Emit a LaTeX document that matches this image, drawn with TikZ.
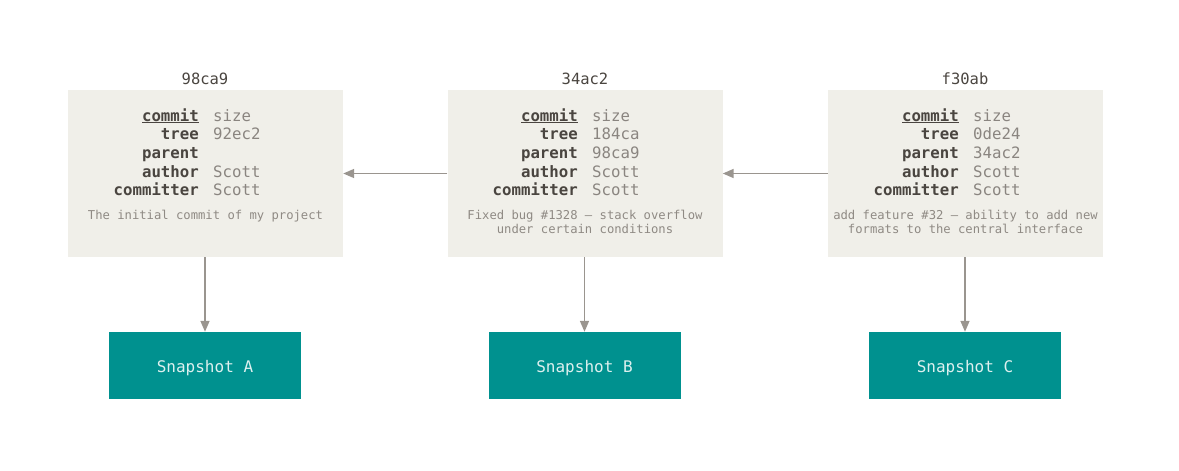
\documentclass[tikz,border=0pt]{standalone}
\usepackage{fontspec}
\setmonofont{DejaVu Sans Mono}
\usetikzlibrary{arrows.meta}
\definecolor{boxfill}{HTML}{F0EFE9}
\definecolor{snapfill}{HTML}{00918F}
\definecolor{snaptext}{HTML}{DDF0EF}
\definecolor{keycol}{HTML}{4A4540}
\definecolor{valcol}{HTML}{8A8580}
\definecolor{msgcol}{HTML}{8F8A84}
\definecolor{arrcol}{HTML}{9A958F}
\tikzset{
  commitbox/.style={fill=boxfill, draw=none, minimum width=275pt, minimum height=167pt, inner sep=0pt},
  snapbox/.style={fill=snapfill, draw=none, minimum width=192pt, minimum height=67pt, inner sep=0pt,
     text=snaptext, font=\ttfamily\fontsize{16}{18}\selectfont},
  snaplabel/.style={anchor=base, inner sep=0pt, text=snaptext, font=\ttfamily\fontsize{16}{18}\selectfont},
  keytxt/.style={anchor=base east, inner sep=0pt, text=keycol, font=\ttfamily\bfseries\fontsize{15.7}{18}\selectfont},
  valtxt/.style={anchor=base west, inner sep=0pt, text=valcol, font=\ttfamily\fontsize{15.7}{18}\selectfont},
  msgtxt/.style={anchor=north, inner sep=0pt, text=msgcol, align=center, font=\ttfamily\fontsize{12.2}{14}\selectfont},
  titletxt/.style={anchor=base, inner sep=0pt, text=keycol, font=\ttfamily\fontsize{15.5}{18}\selectfont},
  link/.style={draw=arrcol, line width=1.5pt, -{Triangle[length=11pt,width=9pt]}}
}
\begin{document}
\begin{tikzpicture}[x=1pt,y=-1pt]
\useasboundingbox (0,0) rectangle (1179,471);
% commit boxes
\node[commitbox] (c1) at (205.5,173.5) {};
\node[commitbox] (c2) at (585,173.5) {};
\node[commitbox] (c3) at (965.5,173.5) {};
% snapshots
\node[snapbox] (s1) at (205,365.5) {};
\node[snapbox] (s2) at (584.5,365.5) {};
\node[snapbox] (s3) at (965,365.5) {};
\node[snaplabel] (l1) at (205,372) {Snapshot A};
\node[snaplabel] (l2) at (584.5,372) {Snapshot B};
\node[snaplabel] (l3) at (965,372) {Snapshot C};
% titles
\node[titletxt] (t1) at (205,84) {98ca9};
\node[titletxt] (t2) at (585,84) {34ac2};
\node[titletxt] (t3) at (965,84) {f30ab};
% box 1 fields
\node[keytxt] (k1a) at (199,121) {\underline{commit}};
\node[keytxt] (k1b) at (199,139.5) {tree};
\node[keytxt] (k1c) at (199,158) {parent};
\node[keytxt] (k1d) at (199,177) {author};
\node[keytxt] (k1e) at (199,195.5) {committer};
\node[valtxt] (v1a) at (213,121) {size};
\node[valtxt] (v1b) at (213,139.5) {92ec2};
\node[valtxt] (v1d) at (213,177) {Scott};
\node[valtxt] (v1e) at (213,195.5) {Scott};
\node[msgtxt] (m1) at (205.5,210) {The initial commit of my project};
% box 2 fields
\node[keytxt] (k2a) at (578,121) {\underline{commit}};
\node[keytxt] (k2b) at (578,139.5) {tree};
\node[keytxt] (k2c) at (578,158) {parent};
\node[keytxt] (k2d) at (578,177) {author};
\node[keytxt] (k2e) at (578,195.5) {committer};
\node[valtxt] (v2a) at (592,121) {size};
\node[valtxt] (v2b) at (592,139.5) {184ca};
\node[valtxt] (v2c) at (592,158) {98ca9};
\node[valtxt] (v2d) at (592,177) {Scott};
\node[valtxt] (v2e) at (592,195.5) {Scott};
\node[msgtxt] (m2) at (585,210) {Fixed bug \#1328 – stack overflow\\under certain conditions};
% box 3 fields
\node[keytxt] (k3a) at (959,121) {\underline{commit}};
\node[keytxt] (k3b) at (959,139.5) {tree};
\node[keytxt] (k3c) at (959,158) {parent};
\node[keytxt] (k3d) at (959,177) {author};
\node[keytxt] (k3e) at (959,195.5) {committer};
\node[valtxt] (v3a) at (973,121) {size};
\node[valtxt] (v3b) at (973,139.5) {0de24};
\node[valtxt] (v3c) at (973,158) {34ac2};
\node[valtxt] (v3d) at (973,177) {Scott};
\node[valtxt] (v3e) at (973,195.5) {Scott};
\node[msgtxt] (m3) at (965.5,210) {add feature \#32 – ability to add new\\formats to the central interface};
% connectors
\draw[link] (c2.west) -- (c1.east);
\draw[link] (c3.west) -- (c2.east);
\draw[link] (s1.north |- c1.south) -- (s1.north);
\draw[link] (s2.north |- c2.south) -- (s2.north);
\draw[link] (s3.north |- c3.south) -- (s3.north);
\end{tikzpicture}
\end{document}
